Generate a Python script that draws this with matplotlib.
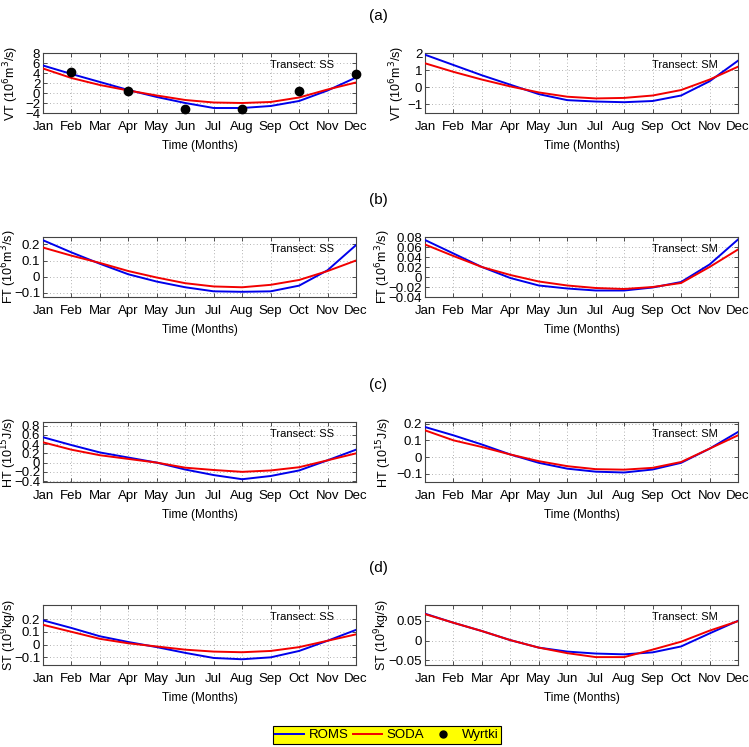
import matplotlib
matplotlib.use("Agg")
import matplotlib.pyplot as plt
from matplotlib.lines import Line2D
import numpy as np

months = ["Jan", "Feb", "Mar", "Apr", "May", "Jun", "Jul", "Aug", "Sep", "Oct", "Nov", "Dec"]
month_idx = list(range(1, 13))

# Volume transport (10^6 m^3/s)
vt_ss_roms = [5.5, 3.8, 2.2, 0.6, -0.8, -2.0, -3.0, -3.0, -2.6, -1.6, 0.5, 3.1]
vt_ss_soda = [4.9, 3.0, 1.6, 0.5, -0.5, -1.4, -1.9, -2.0, -1.8, -0.9, 0.7, 2.1]
wyrtki_months = [2, 4, 6, 8, 10, 12]
wyrtki_vt = [4.3, 0.4, -3.1, -3.1, 0.4, 3.9]
vt_sm_roms = [1.9, 1.3, 0.7, 0.15, -0.4, -0.75, -0.83, -0.87, -0.8, -0.48, 0.35, 1.55]
vt_sm_soda = [1.4, 0.9, 0.45, 0.05, -0.3, -0.55, -0.65, -0.62, -0.48, -0.16, 0.45, 1.2]

# Freshwater transport (10^6 m^3/s)
ft_ss_roms = [0.225, 0.15, 0.08, 0.015, -0.03, -0.065, -0.09, -0.093, -0.09, -0.055, 0.04, 0.195]
ft_ss_soda = [0.18, 0.13, 0.085, 0.035, -0.005, -0.04, -0.06, -0.065, -0.05, -0.02, 0.035, 0.1]
ft_sm_roms = [0.074, 0.047, 0.02, -0.002, -0.017, -0.023, -0.027, -0.027, -0.021, -0.01, 0.025, 0.075]
ft_sm_soda = [0.065, 0.042, 0.02, 0.004, -0.009, -0.017, -0.022, -0.024, -0.02, -0.012, 0.02, 0.055]

# Heat transport (10^15 J/s)
ht_ss_roms = [0.55, 0.38, 0.22, 0.11, 0.0, -0.15, -0.27, -0.36, -0.29, -0.17, 0.05, 0.28]
ht_ss_soda = [0.44, 0.28, 0.16, 0.08, 0.0, -0.11, -0.16, -0.2, -0.17, -0.1, 0.05, 0.2]
ht_sm_roms = [0.18, 0.13, 0.075, 0.015, -0.035, -0.07, -0.088, -0.093, -0.075, -0.035, 0.05, 0.15]
ht_sm_soda = [0.16, 0.1, 0.06, 0.015, -0.025, -0.055, -0.073, -0.076, -0.065, -0.03, 0.05, 0.13]

# Salt transport (10^9 kg/s)
st_ss_roms = [0.19, 0.13, 0.065, 0.02, -0.02, -0.065, -0.105, -0.115, -0.1, -0.05, 0.03, 0.115]
st_ss_soda = [0.155, 0.1, 0.045, 0.01, -0.015, -0.04, -0.055, -0.06, -0.05, -0.02, 0.03, 0.08]
st_sm_roms = [0.068, 0.045, 0.024, 0.001, -0.018, -0.028, -0.033, -0.035, -0.03, -0.015, 0.018, 0.05]
st_sm_soda = [0.067, 0.045, 0.024, 0.001, -0.018, -0.032, -0.042, -0.042, -0.023, -0.003, 0.025, 0.049]

W, H = 749, 747
fig = plt.figure(figsize=(W / 100, H / 100), dpi=100)
plt.rcParams['font.family'] = ['Liberation Sans', 'DejaVu Sans']
NARROW = ['Liberation Sans Narrow', 'Liberation Sans', 'DejaVu Sans']

ROMS_C = (0.0, 0.0, 0.92)
SODA_C = (0.95, 0.0, 0.0)

def px_axes(x0, top, w, h):
    return fig.add_axes([x0 / W, 1 - (top + h) / H, w / W, h / H])

row_tops = [53, 237, 422, 605]
row_h = 60
col_x = [43, 425]
col_w = 313

panels = [
    # (row, col, roms, soda, ylim, yticks, ylabel, ylabel centre x px, transect, wyrtki?)
    (0, 0, vt_ss_roms, vt_ss_soda, (-4, 8), [-4, -2, 0, 2, 4, 6, 8], r"VT (10$^6$m$^3$/s)", 15, "SS", True),
    (0, 1, vt_sm_roms, vt_sm_soda, (-1.5, 2), [-1, 0, 1, 2], r"VT (10$^6$m$^3$/s)", 401, "SM", False),
    (1, 0, ft_ss_roms, ft_ss_soda, (-0.125, 0.245), [-0.1, 0, 0.1, 0.2], r"FT (10$^6$m$^3$/s)", 13, "SS", False),
    (1, 1, ft_sm_roms, ft_sm_soda, (-0.04, 0.08), [-0.04, -0.02, 0, 0.02, 0.04, 0.06, 0.08], r"FT (10$^6$m$^3$/s)", 387, "SM", False),
    (2, 0, ht_ss_roms, ht_ss_soda, (-0.42, 0.88), [-0.4, -0.2, 0, 0.2, 0.4, 0.6, 0.8], r"HT (10$^{15}$J/s)", 13, "SS", False),
    (2, 1, ht_sm_roms, ht_sm_soda, (-0.15, 0.21), [-0.1, 0, 0.1, 0.2], r"HT (10$^{15}$J/s)", 388, "SM", False),
    (3, 0, st_ss_roms, st_ss_soda, (-0.16, 0.31), [-0.1, 0, 0.1, 0.2], r"ST (10$^9$kg/s)", 13, "SS", False),
    (3, 1, st_sm_roms, st_sm_soda, (-0.062, 0.09), [-0.05, 0, 0.05], r"ST (10$^9$kg/s)", 386, "SM", False),
]

def fmt(v):
    if abs(v) < 1e-12:
        return "0"
    s = ("%g" % v)
    return s.replace("-", "\u2212")

for (r, c, roms, soda, ylim, yt, ylab, ylx, tr, wy) in panels:
    ax = px_axes(col_x[c], row_tops[r], col_w, row_h)
    ax.plot(month_idx, roms, color=ROMS_C, lw=1.4, zorder=3)
    ax.plot(month_idx, soda, color=SODA_C, lw=1.4, zorder=3)
    if wy:
        ax.plot(wyrtki_months, wyrtki_vt, 'o', color='black', ms=6, zorder=4, clip_on=False)
    ax.set_xlim(1, 12)
    ax.set_ylim(*ylim)
    ax.set_xticks(month_idx)
    ax.set_xticklabels(months, fontsize=9.5)
    ax.set_yticks(yt)
    ax.set_yticklabels([fmt(v) for v in yt], fontsize=9.5)
    ax.tick_params(direction='in', length=3, width=0.6, top=True, right=True, colors='#333333')
    ax.tick_params(axis='x', labelcolor='black', pad=6)
    ax.tick_params(axis='y', labelcolor='black', pad=2)
    ax.grid(True, linestyle=(0, (1, 3)), color='#999999', lw=0.6)
    for s in ax.spines.values():
        s.set_color('#444444')
        s.set_linewidth(0.8)
    ax.set_xlabel("Time (Months)", fontsize=8.5, labelpad=5)
    ax.set_ylabel(ylab, fontsize=9)
    ax.yaxis.set_label_coords((ylx + 6 - col_x[c]) / col_w, 0.5)
    ax.text(0.725, 0.8, "Transect: " + tr, transform=ax.transAxes, fontsize=8,
            family=NARROW, va='center', ha='left')

for lab, top in zip(["(a)", "(b)", "(c)", "(d)"], row_tops):
    fig.text(378 / W, 1 - (top - 37) / H, lab, ha='center', va='center', fontsize=11)

handles = [Line2D([], [], color=ROMS_C, lw=1.4),
           Line2D([], [], color=SODA_C, lw=1.4),
           Line2D([], [], marker='o', color='black', ls='none', ms=5)]
leg = fig.legend(handles, ["ROMS", "SODA", "Wyrtki"], loc='center',
                 bbox_to_anchor=(387 / W, 1 - 735 / H), ncol=3,
                 frameon=True, fancybox=False, handlelength=2.2, handletextpad=0.35,
                 columnspacing=0.3, borderpad=0.2, borderaxespad=0,
                 prop={'family': NARROW, 'size': 9.5})
leg.get_frame().set_facecolor('#ffff00')
leg.get_frame().set_edgecolor('black')
leg.get_frame().set_linewidth(0.8)
leg.get_frame().set_alpha(1)

fig.savefig("out.png", dpi=100)
